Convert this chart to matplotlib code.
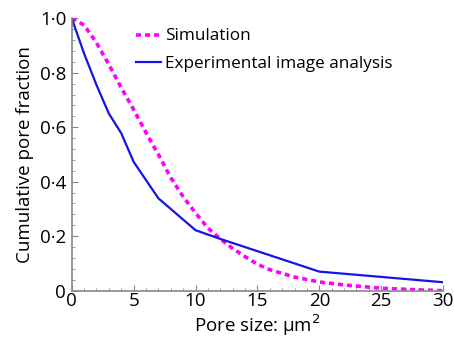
import matplotlib
matplotlib.use('Agg')
import matplotlib.pyplot as plt
from matplotlib.ticker import MultipleLocator, FuncFormatter

# simulation curve
sim_x = [0, 1, 2, 3, 4, 5, 6, 7, 8, 9, 10, 11, 12, 13, 14, 15, 16, 18, 20, 22, 25, 28, 30]
sim_y = [1.0, 0.975, 0.91, 0.83, 0.745, 0.665, 0.58, 0.50, 0.415, 0.345, 0.285, 0.23,
         0.19, 0.155, 0.125, 0.097, 0.077, 0.05, 0.032, 0.021, 0.009, 0.003, 0.0]

# experimental image analysis
exp_x = [0, 1, 2, 3, 4, 5, 7, 10, 12, 20, 30]
exp_y = [1.0, 0.87, 0.755, 0.65, 0.578, 0.473, 0.339, 0.222, 0.19, 0.07, 0.031]

xticks = [0, 5, 10, 15, 20, 25, 30]
yticks = [0, 0.2, 0.4, 0.6, 0.8, 1.0]

plt.rcParams['font.family'] = ['Open Sans', 'DejaVu Sans']

fig = plt.figure(figsize=(4.54, 3.44), dpi=100)
ax = fig.add_axes([0.158, 0.155, 0.818, 0.792])

ax.plot(sim_x, sim_y, color='#ff00ff', lw=2.6, linestyle=(0, (1.4, 1.1)), label='Simulation')
ax.plot(exp_x, exp_y, color='#1414e6', lw=1.6, label='Experimental image analysis')

ax.set_xlim(0, 30)
ax.set_ylim(0, 1.0)
ax.set_xticks(xticks)
ax.set_yticks(yticks)
ax.xaxis.set_minor_locator(MultipleLocator(1))
ax.yaxis.set_minor_locator(MultipleLocator(0.04))

def yfmt(v, pos):
    if abs(v) < 1e-9:
        return '0'
    return ('%.1f' % v).replace('.', '\u00b7')
ax.yaxis.set_major_formatter(FuncFormatter(yfmt))

for s in ['top', 'right']:
    ax.spines[s].set_visible(False)
for s in ['left', 'bottom']:
    ax.spines[s].set_color('#888888')
    ax.spines[s].set_linewidth(1.2)

ax.tick_params(which='both', direction='in', color='#888888', labelsize=13.5)
ax.tick_params(which='major', length=4)
ax.tick_params(which='minor', length=2)
ax.tick_params(axis='x', pad=1)
ax.tick_params(axis='y', pad=4)

ax.set_xlabel('Pore size: \u03bcm$^2$', fontsize=13.5, labelpad=2)
ax.set_ylabel('Cumulative pore fraction', fontsize=13.5, labelpad=4)

ax.legend(loc='upper left', bbox_to_anchor=(0.145, 1.0), frameon=False, fontsize=12.3,
          handlelength=1.45, handletextpad=0.25, labelspacing=0.65, borderaxespad=0.2)

fig.savefig('out.png', dpi=100)
